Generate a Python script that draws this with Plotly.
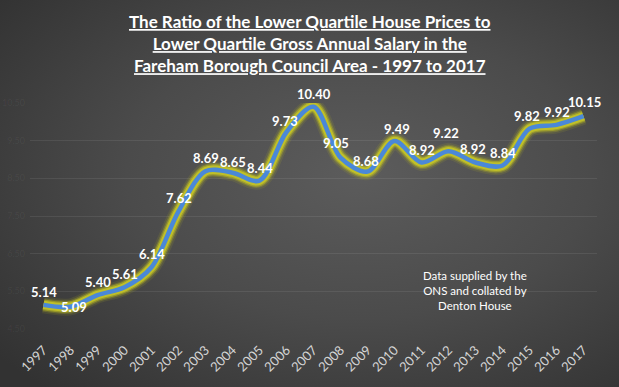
import base64
import plotly.graph_objects as go

years = [str(y) for y in range(1997, 2018)]
ratios = [5.14, 5.09, 5.40, 5.61, 6.14, 7.62, 8.69, 8.65, 8.44, 9.73, 10.40,
          9.05, 8.68, 9.49, 8.92, 9.22, 8.92, 8.84, 9.82, 9.92, 10.15]
labels = [f"{v:.2f}" for v in ratios]
y_ticks = [4.5, 5.5, 6.5, 7.5, 8.5, 9.5, 10.5]
y_tick_text = [f"{v:.2f}" for v in y_ticks]

title_text = ("The Ratio of the Lower Quartile House Prices to<br>"
              "Lower Quartile Gross Annual Salary in the<br>"
              "Fareham Borough Council Area - 1997 to 2017")
note_text = "Data supplied by the<br>ONS and collated by<br>Denton House"

W, H = 619, 387
L, R, T, B = 30, 22, 103, 58
pw, ph = W - L - R, H - T - B

# label placement tweaks (pixel shifts), default is above the point
label_shift = {"1998": (3, 0), "2004": (0, 11), "2006": (-2, 11), "2008": (-5, 15),
               "2009": (-2, 11), "2010": (2, 12), "2012": (-3, 18), "2013": (-3, 14),
               "2015": (-3, 13), "2017": (1, 14)}

svg = (f'<svg xmlns="http://www.w3.org/2000/svg" width="{W}" height="{H}">'
       '<defs><radialGradient id="g" cx="0.58" cy="0.45" r="0.75">'
       '<stop offset="0" stop-color="#5c5c5c"/>'
       '<stop offset="0.5" stop-color="#4b4b4b"/>'
       '<stop offset="1" stop-color="#323232"/></radialGradient></defs>'
       '<rect width="100%" height="100%" fill="url(#g)"/></svg>')
bg_uri = "data:image/svg+xml;base64," + base64.b64encode(svg.encode()).decode()

fig = go.Figure()
glow = [(17, "rgba(190,190,30,0.12)"), (13.5, "rgba(190,190,30,0.25)"),
        (11, "rgba(190,190,35,0.55)"), (8.5, "rgba(195,195,40,0.9)")]
for w, c in glow:
    fig.add_trace(go.Scatter(x=years, y=ratios, mode="lines",
                             line=dict(color=c, width=w, shape="spline", smoothing=0.9),
                             hoverinfo="skip", showlegend=False))
fig.add_trace(go.Scatter(x=years, y=ratios, mode="lines",
                         line=dict(color="#4a88d8", width=4.5, shape="spline", smoothing=0.9),
                         hoverinfo="skip", showlegend=False))

annotations = []
for i, (yr, v, t) in enumerate(zip(years, ratios, labels)):
    dx, dy = label_shift.get(yr, (0, 13))
    annotations.append(dict(x=i, y=v, xref="x", yref="y", text=t, showarrow=False,
                            xanchor="center", yanchor="middle", xshift=dx, yshift=dy,
                            font=dict(family="Lato", size=13, color="white", weight="bold")))

annotations.append(dict(text=title_text, xref="paper", yref="paper",
                        x=(309.5 - L) / pw, y=(H - B - 43) / ph,
                        xanchor="center", yanchor="middle", showarrow=False, align="center",
                        font=dict(family="Lato", size=17, color="white", weight="bold",
                                  lineposition="under")))
annotations.append(dict(text=note_text, xref="paper", yref="paper",
                        x=(475 - L) / pw, y=(H - B - 290.7) / ph,
                        xanchor="center", yanchor="middle", showarrow=False,
                        align="center",
                        font=dict(family="Lato", size=11.5, color="white")))

fig.update_layout(
    width=W, height=H,
    margin=dict(l=L, r=R, t=T, b=B, autoexpand=False),
    paper_bgcolor="#404040", plot_bgcolor="rgba(0,0,0,0)",
    xaxis=dict(type="category", range=[-0.5, 20.5], showgrid=False, showline=False,
               zeroline=False, tickangle=-45, ticks="", ticklabelstandoff=10,
               automargin=False,
               tickfont=dict(family="Lato", size=13, color="#d4d4d4")),
    yaxis=dict(range=[4.5, 10.5], tickvals=y_ticks, ticktext=y_tick_text,
               showgrid=True, gridcolor="rgba(255,255,255,0.08)", gridwidth=1,
               zeroline=False, showline=False, ticks="", ticklabelstandoff=4,
               automargin=False,
               tickfont=dict(family="Lato", size=9, color="rgba(255,255,255,0.05)")),
    images=[dict(source=bg_uri, xref="paper", yref="paper",
                 x=-L / pw, y=(ph + T) / ph, sizex=W / pw, sizey=H / ph,
                 sizing="stretch", xanchor="left", yanchor="top", layer="below")],
    annotations=annotations,
)

fig.write_html("out.html",
               config={"displayModeBar": False},
               post_script="document.body.style.margin='0';document.body.style.background='#333';")
